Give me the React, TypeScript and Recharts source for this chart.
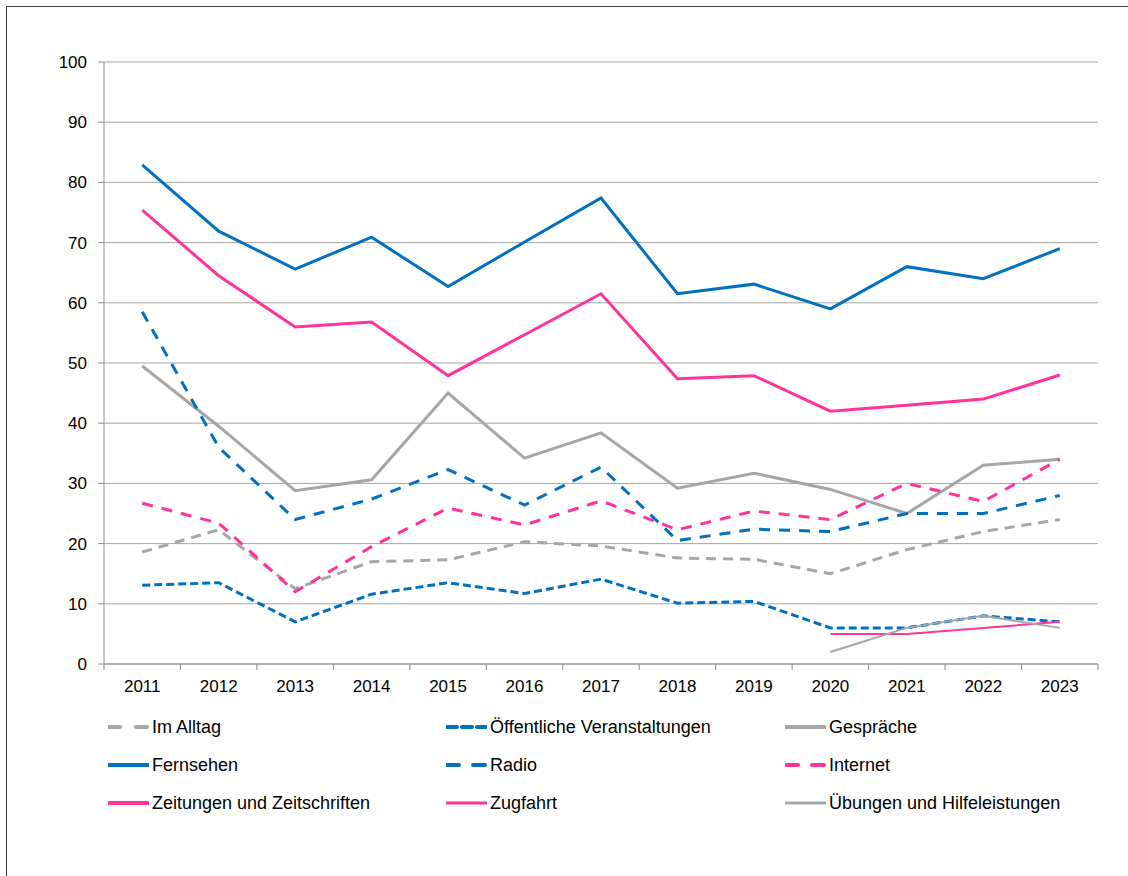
import React from "react"
import { LineChart, Line, XAxis, YAxis, CartesianGrid } from "recharts"

const years = ["2011", "2012", "2013", "2014", "2015", "2016", "2017", "2018", "2019", "2020", "2021", "2022", "2023"]

const imAlltag = [18.6, 22.3, 12.5, 17, 17.3, 20.3, 19.6, 17.6, 17.4, 15, 19, 22, 24]
const oeffentliche = [13.1, 13.5, 7, 11.6, 13.5, 11.7, 14.1, 10.1, 10.4, 6, 6, 8, 7]
const gespraeche = [49.5, 39.5, 28.8, 30.6, 45, 34.2, 38.4, 29.2, 31.7, 29, 25, 33, 34]
const fernsehen = [82.9, 71.9, 65.6, 70.9, 62.7, 70.1, 77.4, 61.5, 63.1, 59, 66, 64, 69]
const radio = [58.5, 36, 24, 27.4, 32.3, 26.4, 32.7, 20.5, 22.4, 22, 25, 25, 28]
const internet = [26.7, 23.4, 12, 19.5, 25.9, 23.1, 27.1, 22.3, 25.4, 24, 30, 27, 34]
const zeitungen = [75.4, 64.5, 56, 56.8, 47.9, 54.7, 61.5, 47.4, 47.9, 42, 43, 44, 48]
const zugfahrt = [null, null, null, null, null, null, null, null, null, 5, 5, 6, 7]
const uebungen = [null, null, null, null, null, null, null, null, null, 2, 6, 8, 6]

const yTicks = [0, 10, 20, 30, 40, 50, 60, 70, 80, 90, 100]

const BLUE = "#0070c0"
const PINK = "#ff3399"
const GRAY = "#a6a6a6"

// legendDash: the swatch in the legend shows fewer, longer dashes than the plotted line
const series = [
  { key: "imAlltag", name: "Im Alltag", values: imAlltag, color: GRAY, width: 3, dash: "10 7", legendDash: "11 16" },
  { key: "oeffentliche", name: "Öffentliche Veranstaltungen", values: oeffentliche, color: BLUE, width: 3, dash: "8 4", legendDash: "10 5" },
  { key: "gespraeche", name: "Gespräche", values: gespraeche, color: GRAY, width: 3, dash: undefined, legendDash: undefined },
  { key: "fernsehen", name: "Fernsehen", values: fernsehen, color: BLUE, width: 3, dash: undefined, legendDash: undefined },
  { key: "radio", name: "Radio", values: radio, color: BLUE, width: 3, dash: "11 9", legendDash: "12 14" },
  { key: "internet", name: "Internet", values: internet, color: PINK, width: 3, dash: "11 9", legendDash: "12 14" },
  { key: "zeitungen", name: "Zeitungen und Zeitschriften", values: zeitungen, color: PINK, width: 3, dash: undefined, legendDash: undefined },
  { key: "zugfahrt", name: "Zugfahrt", values: zugfahrt, color: PINK, width: 2, dash: undefined, legendDash: undefined },
  { key: "uebungen", name: "Übungen und Hilfeleistungen", values: uebungen, color: GRAY, width: 2, dash: undefined, legendDash: undefined },
]

const data = years.map((year, i) => {
  const row: any = { year }
  series.forEach((s) => {
    row[s.key] = s.values[i]
  })
  return row
})

const CHART_W = 1128
const CHART_H = 700
const MARGIN = { top: 62, right: 30, left: 0, bottom: 0 }
const Y_AXIS_W = 104
const BAND = (CHART_W - MARGIN.left - MARGIN.right - Y_AXIS_W) / years.length
const FONT = "'Liberation Sans', Arial, sans-serif"
const AXIS_COLOR = "#8c8c8c"

const XTick = (props: any) => {
  const { x, y, payload, index } = props
  return (
    <g>
      <line x1={x - BAND / 2} y1={y} x2={x - BAND / 2} y2={y + 6} stroke={AXIS_COLOR} />
      {index === years.length - 1 && (
        <line x1={x + BAND / 2} y1={y} x2={x + BAND / 2} y2={y + 6} stroke={AXIS_COLOR} />
      )}
      <text x={x} y={y + 28} textAnchor="middle" fontSize={17} fill="#000" fontFamily={FONT}>
        {payload.value}
      </text>
    </g>
  )
}

const legendCols = [108, 446, 785]
const legendRows = [727, 765, 803]

const ChartLegend = () => (
  <>
    {series.map((s, i) => (
      <div
        key={s.key}
        style={{
          position: "absolute",
          left: legendCols[i % 3],
          top: legendRows[Math.floor(i / 3)] - 11,
          height: 22,
          display: "flex",
          alignItems: "center",
          fontFamily: FONT,
          fontSize: 18,
          color: "#000",
          whiteSpace: "nowrap",
        }}
      >
        <svg width={41} height={22} style={{ marginRight: 3 }}>
          <line
            x1={1}
            y1={11}
            x2={40}
            y2={11}
            stroke={s.color}
            strokeWidth={s.width + 1}
            strokeDasharray={s.legendDash}
            strokeLinecap="round"
          />
        </svg>
        <span>{s.name}</span>
      </div>
    ))}
  </>
)

export default function App() {
  return (
    <div style={{ position: "absolute", left: 0, top: 0, width: 1128, height: 876, overflow: "hidden", background: "#fff" }}>
      <div
        style={{
          position: "absolute",
          left: 6,
          top: 6,
          width: 1140,
          height: 900,
          border: "1.5px solid #3f3f3f",
        }}
      />
      <div style={{ position: "absolute", left: 0, top: 0 }}>
        <LineChart width={CHART_W} height={CHART_H} data={data} margin={MARGIN}>
          <CartesianGrid vertical={false} stroke={GRAY} />
          <XAxis
            dataKey="year"
            scale="band"
            height={CHART_H - 664}
            tickSize={0}
            tickMargin={0}
            tickLine={false}
            axisLine={{ stroke: AXIS_COLOR }}
            tick={<XTick />}
            interval={0}
          />
          <YAxis
            width={Y_AXIS_W}
            domain={[0, 100]}
            ticks={yTicks}
            interval={0}
            tickSize={6}
            tickMargin={11}
            tickLine={{ stroke: AXIS_COLOR }}
            axisLine={{ stroke: AXIS_COLOR }}
            tick={{ fontSize: 17, fill: "#000", fontFamily: FONT }}
          />
          {series.map((s) => (
            <Line
              key={s.key}
              dataKey={s.key}
              name={s.name}
              type="linear"
              stroke={s.color}
              strokeWidth={s.width}
              strokeDasharray={s.dash}
              dot={false}
              activeDot={false}
              isAnimationActive={false}
            />
          ))}
        </LineChart>
      </div>
      <ChartLegend />
    </div>
  )
}
